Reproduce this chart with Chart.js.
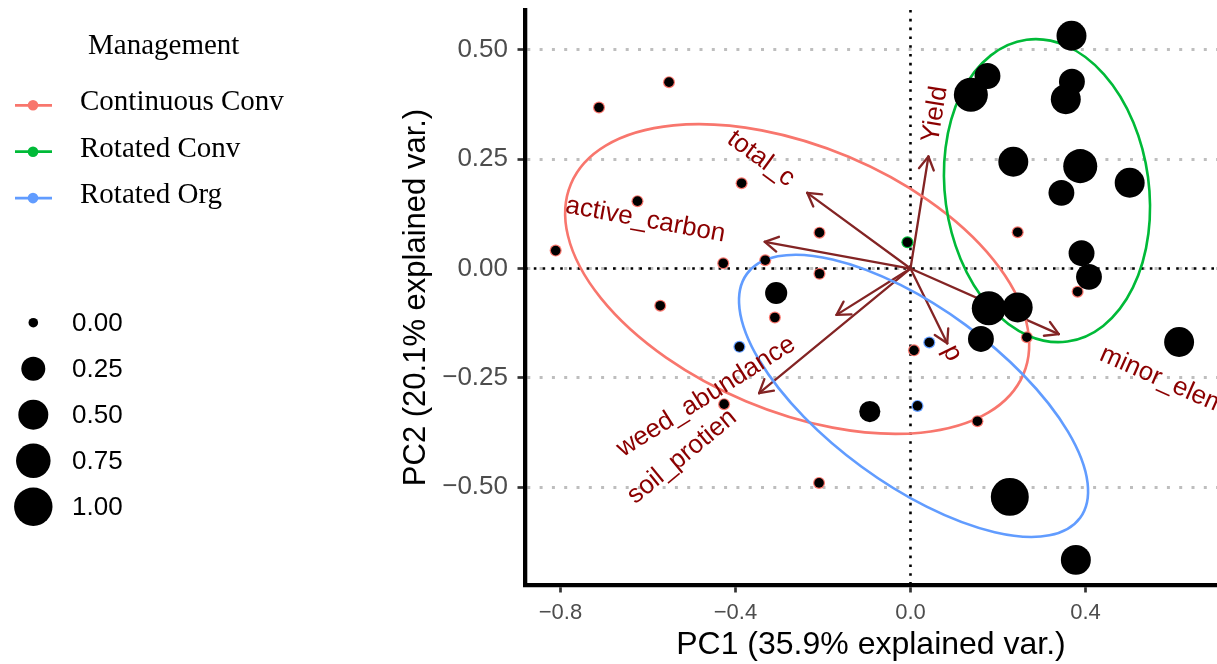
<!DOCTYPE html>
<html>
<head>
<meta charset="utf-8">
<script src="https://cdn.jsdelivr.net/npm/chart.js@4.4.1/dist/chart.umd.min.js"></script>
<style>
  html, body { margin: 0; padding: 0; background: #fff; }
</style>
</head>
<body>
<canvas id="pcaChart" width="1217" height="664"></canvas>
<script>
// management groups
const groups = ['Continuous Conv', 'Rotated Conv', 'Rotated Org'];
const groupColors = ['#F8766D', '#00BA38', '#619CFF'];

// PC scores and size variable, one set of arrays per group
const contPC1 = [-0.552, -0.712, -0.386, -0.624, -0.811, -0.208, -0.428, -0.332, -0.208, -0.572,
                 -0.310, -0.426, -0.209, 0.245, 0.382, 0.266, 0.008, 0.153];
const contPC2 = [0.426, 0.368, 0.195, 0.154, 0.041, 0.082, 0.012, 0.019, -0.012, -0.085,
                 -0.112, -0.310, -0.490, 0.083, -0.053, -0.157, -0.187, -0.349];
const contSize = [0, 0, 0, 0, 0, 0, 0, 0, 0, 0, 0, 0, 0, 0, 0, 0, 0, 0];

const rconvPC1 = [-0.007, 0.368, 0.176, 0.138, 0.369, 0.355, 0.235, 0.388, 0.345, 0.501,
                  0.391, 0.408, 0.179, 0.245, 0.161, 0.614];
const rconvPC2 = [0.060, 0.532, 0.440, 0.397, 0.427, 0.387, 0.244, 0.234, 0.173, 0.196,
                  0.035, -0.019, -0.091, -0.089, -0.161, -0.168];
const rconvSize = [0, 0.50, 0.32, 0.72, 0.32, 0.50, 0.50, 0.72, 0.32, 0.50,
                   0.32, 0.32, 0.72, 0.50, 0.32, 0.50];

const rorgPC1 = [-0.391, 0.043, 0.016, -0.307, -0.093, 0.227, 0.378];
const rorgPC2 = [-0.179, -0.169, -0.314, -0.056, -0.327, -0.522, -0.666];
const rorgSize = [0, 0, 0, 0.19, 0.16, 0.97, 0.50];

// variable loadings (arrow tips)
const varNames = ['Yield', 'total_c', 'active_carbon', 'weed_abundance', 'soil_protien', 'p', 'minor_elements'];
const varPC1 = [0.041, -0.236, -0.333, -0.169, -0.346, 0.084, 0.339];
const varPC2 = [0.256, 0.173, 0.061, -0.106, -0.285, -0.171, -0.150];

// 68% normal ellipses per group: centre, semi-axes, angle of first axis (degrees)
const ellCenterPC1 = [-0.259, 0.312, 0.007];
const ellCenterPC2 = [-0.024, 0.178, -0.291];
const ellAxisA = [0.561, 0.233, 0.472];
const ellAxisB = [0.303, 0.348, 0.201];
const ellAngle = [-22.8, 7.7, -36.2];

// size legend breaks and axis ticks
const sizeBreaks = [0, 0.25, 0.5, 0.75, 1];
const xTickStep = 0.4;
const yTickStep = 0.25;

const SANS = "'Liberation Sans', Arial, Helvetica, sans-serif";
const SERIF = "'Liberation Serif', 'Times New Roman', serif";
Chart.defaults.font.family = SANS;

const sizeRadius = v => 4.8 + 14.4 * Math.sqrt(v);
const fmt = (v, d) => (v < -1e-9 ? '\u2212' : '') + Math.abs(v).toFixed(d);
const toPoints = (xs, ys) => xs.map((x, i) => ({ x: x, y: ys[i] }));

const scores = [
  [contPC1, contPC2, contSize],
  [rconvPC1, rconvPC2, rconvSize],
  [rorgPC1, rorgPC2, rorgSize]
];

const datasets = [];
// coloured group markers underneath
scores.forEach((s, g) => {
  datasets.push({
    label: groups[g],
    data: toPoints(s[0], s[1]),
    backgroundColor: groupColors[g],
    borderWidth: 0,
    pointRadius: 6,
    order: 2
  });
});
// black markers sized by the size variable
scores.forEach((s, g) => {
  datasets.push({
    label: groups[g] + ' size',
    data: toPoints(s[0], s[1]),
    backgroundColor: '#000',
    borderWidth: 0,
    pointRadius: s[2].map(sizeRadius),
    order: 1
  });
});

function line(ctx, x1, y1, x2, y2) {
  ctx.beginPath();
  ctx.moveTo(x1, y1);
  ctx.lineTo(x2, y2);
  ctx.stroke();
}

// keep the plot panel exactly where the axes are sized, no label padding
function noPad(s) {
  s.paddingTop = 0;
  s.paddingBottom = 0;
  s.paddingLeft = 0;
  s.paddingRight = 0;
}

const biplotLayers = {
  id: 'biplotLayers',
  beforeDatasetsDraw(chart) {
    const { ctx, chartArea: a, scales: { x, y } } = chart;
    const x0 = x.getPixelForValue(0), y0 = y.getPixelForValue(0);
    ctx.save();
    // dotted lines through the origin
    ctx.strokeStyle = '#000';
    ctx.lineWidth = 2.6;
    ctx.setLineDash([2.6, 6.2]);
    line(ctx, a.left, y0, a.right, y0);
    line(ctx, x0, a.top, x0, a.bottom);
    ctx.setLineDash([]);
    // loading arrows with open heads
    ctx.strokeStyle = '#832424';
    ctx.lineWidth = 2.3;
    ctx.lineCap = 'round';
    varNames.forEach((name, i) => {
      const tx = x.getPixelForValue(varPC1[i]), ty = y.getPixelForValue(varPC2[i]);
      line(ctx, x0, y0, tx, ty);
      const ang = Math.atan2(ty - y0, tx - x0);
      [-1, 1].forEach(s => {
        const h = ang + Math.PI + s * Math.PI / 6;
        line(ctx, tx, ty, tx + 15 * Math.cos(h), ty + 15 * Math.sin(h));
      });
    });
    ctx.restore();
  },
  afterDatasetDraw(chart, args) {
    // index 0 is the last coloured layer drawn; ellipses sit above it
    if (args.index !== 0) return;
    const { ctx, chartArea: a, scales: { x, y } } = chart;
    ctx.save();
    ctx.beginPath();
    ctx.rect(a.left, a.top, a.right - a.left, a.bottom - a.top);
    ctx.clip();
    ctx.lineWidth = 2.6;
    groups.forEach((g, i) => {
      const cx = x.getPixelForValue(ellCenterPC1[i]);
      const cy = y.getPixelForValue(ellCenterPC2[i]);
      const rx = x.getPixelForValue(ellAxisA[i]) - x.getPixelForValue(0);
      const ry = y.getPixelForValue(0) - y.getPixelForValue(ellAxisB[i]);
      ctx.strokeStyle = groupColors[i];
      ctx.beginPath();
      ctx.ellipse(cx, cy, rx, ry, -ellAngle[i] * Math.PI / 180, 0, 2 * Math.PI);
      ctx.stroke();
    });
    ctx.restore();
  },
  afterDatasetsDraw(chart) {
    const { ctx, scales: { x, y } } = chart;
    ctx.save();
    ctx.font = '26px ' + SANS;
    ctx.fillStyle = '#8B0000';
    ctx.textAlign = 'left';
    ctx.textBaseline = 'middle';
    varNames.forEach((name, i) => {
      const px = x.getPixelForValue(varPC1[i]), py = y.getPixelForValue(varPC2[i]);
      const angle = Math.atan(varPC2[i] / varPC1[i]);
      const hjust = (1 - 1.5 * Math.sign(varPC1[i])) / 2;
      const w = ctx.measureText(name).width;
      ctx.save();
      ctx.translate(px, py);
      ctx.rotate(-angle);
      ctx.fillText(name, -hjust * w, 0);
      ctx.restore();
    });
    ctx.restore();
  },
  afterDraw(chart) {
    const ctx = chart.ctx;
    ctx.save();
    // colour legend
    ctx.fillStyle = '#000';
    ctx.textAlign = 'left';
    ctx.textBaseline = 'alphabetic';
    ctx.font = '29px ' + SERIF;
    ctx.fillText('Management', 88, 54);
    groups.forEach((g, i) => {
      const ky = 105.3 + i * 46.4;
      ctx.strokeStyle = groupColors[i];
      ctx.lineWidth = 2.7;
      line(ctx, 15, ky, 52, ky);
      ctx.fillStyle = groupColors[i];
      ctx.beginPath();
      ctx.arc(33, ky, 5.3, 0, 2 * Math.PI);
      ctx.fill();
      ctx.fillStyle = '#000';
      ctx.fillText(g, 80, ky + 5);
    });
    // size legend
    ctx.font = '26px ' + SANS;
    ctx.textBaseline = 'middle';
    sizeBreaks.forEach((b, i) => {
      const ky = 322.7 + i * 46;
      ctx.fillStyle = '#000';
      ctx.beginPath();
      ctx.arc(33.3, ky, sizeRadius(b), 0, 2 * Math.PI);
      ctx.fill();
      ctx.fillText(fmt(b, 2), 72, ky + 1);
    });
    ctx.restore();
  }
};

new Chart(document.getElementById('pcaChart'), {
  type: 'scatter',
  data: { datasets: datasets },
  options: {
    responsive: false,
    animation: false,
    events: [],
    layout: { autoPadding: false, padding: { left: 398, right: 0, top: 10, bottom: 0 } },
    plugins: { legend: { display: false }, tooltip: { enabled: false } },
    scales: {
      x: {
        type: 'linear',
        min: -0.8811,
        max: 0.7006,
        afterFit: s => { s.height = 79; noPad(s); },
        ticks: {
          stepSize: xTickStep,
          includeBounds: false,
          color: '#4d4d4d',
          font: { size: 22 },
          padding: 7,
          callback: v => fmt(v, 1)
        },
        grid: { drawOnChartArea: false, tickLength: 7.5, tickColor: '#333', tickWidth: 2.7 },
        border: { color: '#000', width: 4.3 },
        title: { display: true, text: 'PC1 (35.9% explained var.)', color: '#000', font: { size: 32 }, padding: 0 }
      },
      y: {
        type: 'linear',
        min: -0.7234,
        max: 0.5909,
        afterFit: s => { s.width = 127; noPad(s); },
        ticks: {
          stepSize: yTickStep,
          includeBounds: false,
          color: '#4d4d4d',
          font: { size: 26 },
          padding: 9.5,
          callback: v => fmt(v, 2)
        },
        grid: {
          color: '#bebebe', lineWidth: 3,
          tickLength: 7.5, tickColor: '#333', tickWidth: 2.7, tickBorderDash: []
        },
        border: { color: '#000', width: 4.3, dash: [3, 9.3] },
        title: { display: true, text: 'PC2 (20.1% explained var.)', color: '#000', font: { size: 31 }, padding: 0 }
      }
    }
  },
  plugins: [biplotLayers]
});
</script>
</body>
</html>
